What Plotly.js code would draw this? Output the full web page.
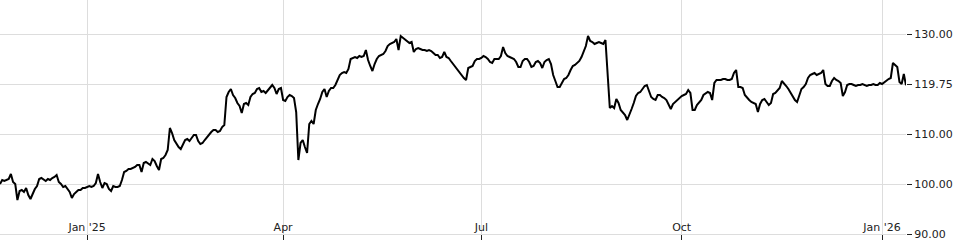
<!DOCTYPE html>
<html>
<head>
<meta charset="utf-8">
<script src="https://cdn.plot.ly/plotly-3.0.1.min.js"></script>
<style>html,body{margin:0;padding:0;background:#fff;}#chart{width:960px;height:240px;}</style>
</head>
<body>
<div id="chart"></div>
<script>
const dates = [
'2024-11-22','2024-11-23','2024-11-24','2024-11-25','2024-11-26','2024-11-27','2024-11-28','2024-11-29','2024-11-30',
'2024-12-01','2024-12-02','2024-12-03','2024-12-04','2024-12-05','2024-12-06','2024-12-07','2024-12-08','2024-12-09','2024-12-10','2024-12-11','2024-12-12','2024-12-13','2024-12-14','2024-12-15','2024-12-16','2024-12-17','2024-12-18','2024-12-19','2024-12-20','2024-12-21','2024-12-22','2024-12-23','2024-12-24','2024-12-25','2024-12-26','2024-12-27','2024-12-28','2024-12-29','2024-12-30','2024-12-31',
'2025-01-01','2025-01-02','2025-01-03','2025-01-04','2025-01-05','2025-01-06','2025-01-07','2025-01-08','2025-01-09','2025-01-10','2025-01-11','2025-01-12','2025-01-13','2025-01-14','2025-01-15','2025-01-16','2025-01-17','2025-01-18','2025-01-19','2025-01-20','2025-01-21','2025-01-22','2025-01-23','2025-01-24','2025-01-25','2025-01-26','2025-01-27','2025-01-28','2025-01-29','2025-01-30','2025-01-31',
'2025-02-01','2025-02-02','2025-02-03','2025-02-04','2025-02-05','2025-02-06','2025-02-07','2025-02-08','2025-02-09','2025-02-10','2025-02-11','2025-02-12','2025-02-13','2025-02-14','2025-02-15','2025-02-16','2025-02-17','2025-02-18','2025-02-19','2025-02-20','2025-02-21','2025-02-22','2025-02-23','2025-02-24','2025-02-25','2025-02-26','2025-02-27','2025-02-28',
'2025-03-01','2025-03-02','2025-03-03','2025-03-04','2025-03-05','2025-03-06','2025-03-07','2025-03-08','2025-03-09','2025-03-10','2025-03-11','2025-03-12','2025-03-13','2025-03-14','2025-03-15','2025-03-16','2025-03-17','2025-03-18','2025-03-19','2025-03-20','2025-03-21','2025-03-22','2025-03-23','2025-03-24','2025-03-25','2025-03-26','2025-03-27','2025-03-28','2025-03-29','2025-03-30','2025-03-31',
'2025-04-01','2025-04-02','2025-04-03','2025-04-04','2025-04-05','2025-04-06','2025-04-07','2025-04-08','2025-04-09','2025-04-10','2025-04-11','2025-04-12','2025-04-13','2025-04-14','2025-04-15','2025-04-16','2025-04-17','2025-04-18','2025-04-19','2025-04-20','2025-04-21','2025-04-22','2025-04-23','2025-04-24','2025-04-25','2025-04-26','2025-04-27','2025-04-28','2025-04-29','2025-04-30',
'2025-05-01','2025-05-02','2025-05-03','2025-05-04','2025-05-05','2025-05-06','2025-05-07','2025-05-08','2025-05-09','2025-05-10','2025-05-11','2025-05-12','2025-05-13','2025-05-14','2025-05-15','2025-05-16','2025-05-17','2025-05-18','2025-05-19','2025-05-20','2025-05-21','2025-05-22','2025-05-23','2025-05-24','2025-05-25','2025-05-26','2025-05-27','2025-05-28','2025-05-29','2025-05-30','2025-05-31',
'2025-06-01','2025-06-02','2025-06-03','2025-06-04','2025-06-05','2025-06-06','2025-06-07','2025-06-08','2025-06-09','2025-06-10','2025-06-11','2025-06-12','2025-06-13','2025-06-14','2025-06-15','2025-06-16','2025-06-17','2025-06-18','2025-06-19','2025-06-20','2025-06-21','2025-06-22','2025-06-23','2025-06-24','2025-06-25','2025-06-26','2025-06-27','2025-06-28','2025-06-29','2025-06-30',
'2025-07-01','2025-07-02','2025-07-03','2025-07-04','2025-07-05','2025-07-06','2025-07-07','2025-07-08','2025-07-09','2025-07-10','2025-07-11','2025-07-12','2025-07-13','2025-07-14','2025-07-15','2025-07-16','2025-07-17','2025-07-18','2025-07-19','2025-07-20','2025-07-21','2025-07-22','2025-07-23','2025-07-24','2025-07-25','2025-07-26','2025-07-27','2025-07-28','2025-07-29','2025-07-30','2025-07-31',
'2025-08-01','2025-08-02','2025-08-03','2025-08-04','2025-08-05','2025-08-06','2025-08-07','2025-08-08','2025-08-09','2025-08-10','2025-08-11','2025-08-12','2025-08-13','2025-08-14','2025-08-15','2025-08-16','2025-08-17','2025-08-18','2025-08-19','2025-08-20','2025-08-21','2025-08-22','2025-08-23','2025-08-24','2025-08-25','2025-08-26','2025-08-27','2025-08-28','2025-08-29','2025-08-30','2025-08-31',
'2025-09-01','2025-09-02','2025-09-03','2025-09-04','2025-09-05','2025-09-06','2025-09-07','2025-09-08','2025-09-09','2025-09-10','2025-09-11','2025-09-12','2025-09-13','2025-09-14','2025-09-15','2025-09-16','2025-09-17','2025-09-18','2025-09-19','2025-09-20','2025-09-21','2025-09-22','2025-09-23','2025-09-24','2025-09-25','2025-09-26','2025-09-27','2025-09-28','2025-09-29','2025-09-30',
'2025-10-01','2025-10-02','2025-10-03','2025-10-04','2025-10-05','2025-10-06','2025-10-07','2025-10-08','2025-10-09','2025-10-10','2025-10-11','2025-10-12','2025-10-13','2025-10-14','2025-10-15','2025-10-16','2025-10-17','2025-10-18','2025-10-19','2025-10-20','2025-10-21','2025-10-22','2025-10-23','2025-10-24','2025-10-25','2025-10-26','2025-10-27','2025-10-28','2025-10-29','2025-10-30','2025-10-31',
'2025-11-01','2025-11-02','2025-11-03','2025-11-04','2025-11-05','2025-11-06','2025-11-07','2025-11-08','2025-11-09','2025-11-10','2025-11-11','2025-11-12','2025-11-13','2025-11-14','2025-11-15','2025-11-16','2025-11-17','2025-11-18','2025-11-19','2025-11-20','2025-11-21','2025-11-22','2025-11-23','2025-11-24','2025-11-25','2025-11-26','2025-11-27','2025-11-28','2025-11-29','2025-11-30',
'2025-12-01','2025-12-02','2025-12-03','2025-12-04','2025-12-05','2025-12-06','2025-12-07','2025-12-08','2025-12-09','2025-12-10','2025-12-11','2025-12-12','2025-12-13','2025-12-14','2025-12-15','2025-12-16','2025-12-17','2025-12-18','2025-12-19','2025-12-20','2025-12-21','2025-12-22','2025-12-23','2025-12-24','2025-12-25','2025-12-26','2025-12-27','2025-12-28','2025-12-29','2025-12-30','2025-12-31',
'2026-01-01','2026-01-02','2026-01-03','2026-01-04','2026-01-05','2026-01-06','2026-01-07','2026-01-08','2026-01-09','2026-01-10','2026-01-11','2026-01-12'
];

const prices = [
100.0,100.8,100.6,100.8,101.0,102.0,100.4,100.0,96.8,
98.6,98.8,98.4,99.2,97.8,97.0,98.0,99.0,99.6,101.0,101.2,100.8,100.6,101.0,100.8,101.2,101.4,101.8,100.4,100.0,99.4,99.6,99.0,98.4,97.2,98.0,98.4,98.8,98.8,99.2,99.2,
99.4,99.6,99.4,99.6,100.2,102.0,100.4,99.2,100.2,100.0,99.0,98.6,99.6,99.4,99.4,99.6,100.8,102.4,102.6,103.0,103.0,103.2,103.4,103.8,103.8,102.4,104.2,104.4,104.0,103.8,105.0,
104.6,103.6,102.8,105.0,105.2,105.8,106.8,111.2,110.2,108.8,108.0,107.4,107.0,108.0,108.8,109.0,108.6,109.2,109.8,109.8,108.6,108.0,108.2,108.8,109.4,109.8,110.4,110.8,
110.8,110.4,110.6,111.4,111.8,117.4,118.4,119.0,117.8,117.2,116.2,115.6,114.2,116.0,116.2,115.8,117.4,118.0,118.2,119.0,119.2,118.4,118.6,118.2,118.8,119.4,119.8,119.2,118.0,119.0,119.2,
116.8,116.6,117.4,117.8,117.6,117.2,114.4,104.8,108.2,108.8,107.4,106.2,112.0,112.6,112.0,114.8,116.0,117.0,118.4,119.0,117.4,118.6,119.2,119.2,119.8,120.8,121.8,122.2,122.4,122.2,
123.0,125.0,125.2,125.4,125.2,125.6,125.4,125.6,126.8,124.8,123.6,122.6,124.0,125.0,125.6,125.8,126.0,126.6,127.6,128.0,128.2,128.4,129.0,126.8,129.6,129.2,129.0,128.6,128.2,128.4,126.4,
127.0,127.2,127.0,126.8,126.8,126.6,126.8,126.6,126.2,125.8,125.8,125.2,125.4,126.4,125.4,125.2,124.6,124.0,123.6,123.0,122.4,121.8,121.2,120.8,123.2,123.4,123.6,124.6,125.0,125.0,
125.2,125.6,125.4,125.0,124.4,124.2,125.0,125.0,125.0,125.6,127.4,126.2,125.6,125.4,125.2,125.0,124.4,123.4,123.4,124.6,125.0,125.0,124.4,123.4,123.6,124.4,124.6,124.2,123.2,124.4,124.8,
125.0,124.0,121.8,120.6,119.4,119.4,120.2,121.0,121.2,121.8,122.8,123.6,123.8,124.2,124.6,125.4,126.4,127.6,129.6,128.6,128.4,128.0,128.2,128.4,128.2,128.0,128.8,122.4,115.2,115.6,115.2,
117.0,116.2,114.8,114.4,113.8,112.8,113.8,115.0,116.2,117.6,118.2,118.4,119.0,119.6,119.8,118.4,117.4,117.0,116.8,117.8,117.8,117.4,117.2,116.8,116.0,115.0,116.0,116.4,116.6,117.2,
117.6,117.8,118.0,118.8,118.2,114.8,114.8,115.8,116.2,116.8,117.8,118.2,118.4,118.2,116.8,120.2,120.8,120.8,120.8,121.0,121.0,120.8,120.8,121.0,122.2,122.8,119.4,119.4,119.2,117.8,117.2,
116.8,116.4,116.2,116.0,114.4,116.0,116.8,117.0,116.4,115.8,116.2,118.0,118.2,118.8,119.2,120.6,120.2,119.6,119.0,118.2,117.4,116.8,116.4,117.8,119.0,119.4,120.0,121.2,121.8,122.0,
122.2,121.8,122.0,122.2,122.8,120.0,119.6,119.6,120.6,121.2,120.8,120.6,120.2,117.6,118.4,119.8,120.0,120.0,119.8,119.6,119.8,119.8,120.0,119.8,119.6,119.8,119.8,120.0,119.8,119.8,120.2,
120.0,120.4,120.8,121.0,121.2,124.2,123.8,123.4,120.4,120.0,122.0,119.75
];

const xTickDates = ['2025-01-01','2025-04-01','2025-07-01','2025-10-01','2026-01-01'];
const xTickText = ["Jan '25","Apr","Jul","Oct","Jan '26"];
const yTickVals = [90,100,110,120,130];
const yTickText = ['90.00','100.00','110.00','119.75','130.00'];

const trace = {
  type: 'scatter',
  mode: 'lines',
  x: dates,
  y: prices,
  line: {color: '#000000', width: 2},
  hoverinfo: 'skip'
};

const layout = {
  width: 960,
  height: 240,
  margin: {l: 0, r: 54, t: 0, b: 6},
  paper_bgcolor: '#ffffff',
  plot_bgcolor: '#ffffff',
  showlegend: false,
  font: {family: 'DejaVu Sans, sans-serif', size: 11, color: '#222222'},
  xaxis: {
    type: 'date',
    range: ['2024-11-22', '2026-01-12'],
    tickmode: 'array',
    tickvals: xTickDates,
    ticktext: xTickText,
    ticks: 'outside',
    ticklen: 6,
    tickcolor: '#222222',
    ticklabelstandoff: -23,
    ticklabeloverflow: 'allow',
    showgrid: true,
    gridcolor: '#dddddd',
    zeroline: false,
    showline: true,
    linecolor: '#dddddd',
    linewidth: 1
  },
  yaxis: {
    side: 'right',
    range: [90, 136.8],
    tickmode: 'array',
    tickvals: yTickVals,
    ticktext: yTickText,
    ticks: 'outside',
    ticklen: 5,
    tickcolor: '#222222',
    ticklabeloverflow: 'allow',
    showgrid: true,
    gridcolor: '#dddddd',
    zeroline: false,
    showline: false
  }
};

Plotly.newPlot('chart', [trace], layout, {staticPlot: true, displayModeBar: false});
</script>
</body>
</html>
